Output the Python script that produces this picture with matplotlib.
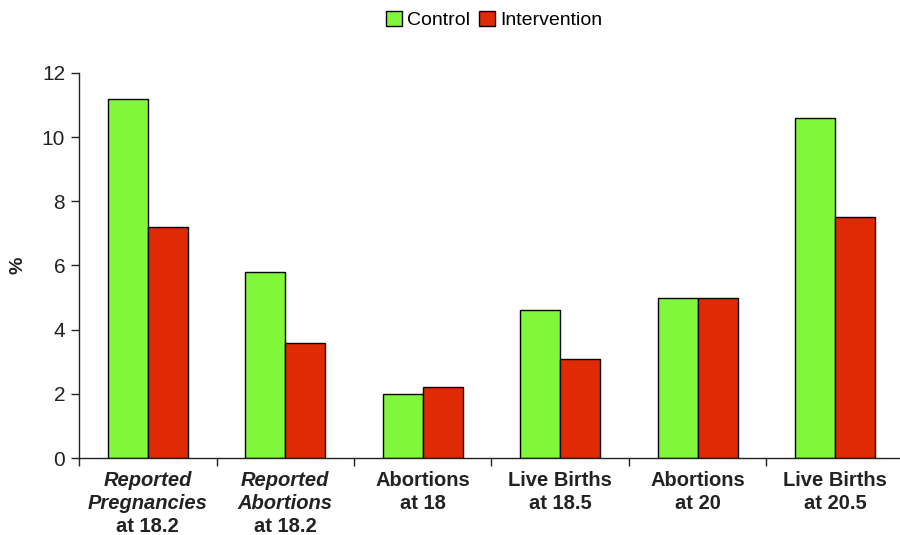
import matplotlib
matplotlib.use("Agg")
import matplotlib.pyplot as plt
import numpy as np

plt.rcParams['font.family'] = ['Liberation Sans', 'DejaVu Sans']

# data
line1 = ['Reported', 'Reported', 'Abortions', 'Live Births', 'Abortions', 'Live Births']
line2 = ['Pregnancies', 'Abortions', 'at 18', 'at 18.5', 'at 20', 'at 20.5']
line3 = ['at 18.2', 'at 18.2', '', '', '', '']
italic_cats = [0, 1]
control = [11.2, 5.8, 2.0, 4.6, 5.0, 10.6]
intervention = [7.2, 3.6, 2.2, 3.1, 5.0, 7.5]

green = '#80f73a'
red = '#e02a05'
ink = '#222222'

fig = plt.figure(figsize=(9, 5.35), dpi=100)
ax = fig.add_axes([0.0878, 0.1439, 0.9166, 0.7197])

x = np.arange(len(control))
w = 0.29
ax.bar(x - w / 2, control, w, color=green, edgecolor='black', linewidth=1, label='Control')
ax.bar(x + w / 2, intervention, w, color=red, edgecolor='black', linewidth=1, label='Intervention')

ax.set_xlim(-0.5, 5.5)
ax.set_ylim(0, 12)
ax.set_yticks([0, 2, 4, 6, 8, 10, 12])
ax.set_xticks(np.arange(-0.5, 5.5, 1))
ax.set_xticklabels([])
ax.tick_params(axis='y', labelsize=15, length=6, width=1, colors=ink, pad=4)
ax.tick_params(axis='x', length=6, width=1, colors=ink)
for s in ['top', 'right']:
    ax.spines[s].set_visible(False)
for s in ['left', 'bottom']:
    ax.spines[s].set_linewidth(1)
    ax.spines[s].set_color(ink)

# category labels (mixed italic / upright lines)
tr = ax.get_xaxis_transform()
fs = 14.5
for i in range(len(control)):
    st = 'italic' if i in italic_cats else 'normal'
    ax.text(i, -0.058, line1[i], transform=tr, ha='center', va='center',
            fontsize=fs, fontweight='bold', style=st, color=ink)
    ax.text(i, -0.118, line2[i], transform=tr, ha='center', va='center',
            fontsize=fs, fontweight='bold', style=st, color=ink)
    if line3[i]:
        ax.text(i, -0.178, line3[i], transform=tr, ha='center', va='center',
                fontsize=fs, fontweight='bold', color=ink)

fig.text(0.02, 0.505, '%', rotation=90, ha='center', va='center',
         fontsize=14, fontweight='bold', color=ink)

fig.legend(loc='center', bbox_to_anchor=(0.549, 0.963), ncol=2, frameon=False,
           fontsize=14, handlelength=0.8, handleheight=0.8, handletextpad=0.25,
           columnspacing=0.5, borderaxespad=0)

fig.savefig('out.png', dpi=100)
